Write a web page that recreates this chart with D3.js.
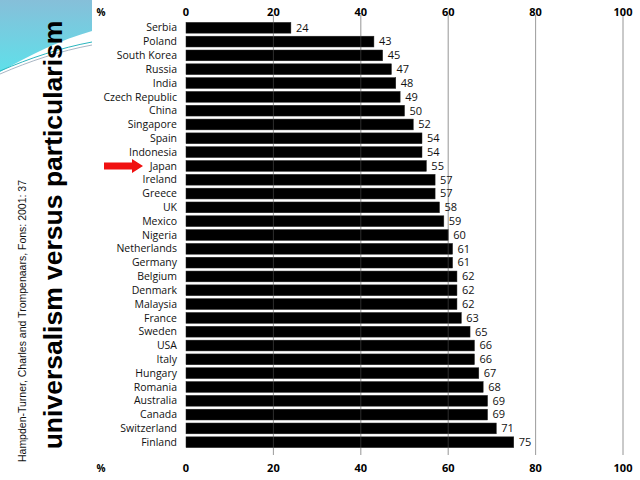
<!DOCTYPE html>
<html>
<head>
<meta charset="utf-8">
<script src="https://cdn.jsdelivr.net/npm/d3@7"></script>
<style>
  body { margin: 0; background: #fff; }
  svg { display: block; }
</style>
</head>
<body>
<svg id="chart" width="640" height="480"></svg>
<script>
const countries = ["Serbia", "Poland", "South Korea", "Russia", "India", "Czech Republic", "China",
  "Singapore", "Spain", "Indonesia", "Japan", "Ireland", "Greece", "UK", "Mexico", "Nigeria",
  "Netherlands", "Germany", "Belgium", "Denmark", "Malaysia", "France", "Sweden", "USA", "Italy",
  "Hungary", "Romania", "Australia", "Canada", "Switzerland", "Finland"];
const values = [24, 43, 45, 47, 48, 49, 50, 52, 54, 54, 55, 57, 57, 58, 59, 60, 61, 61, 62, 62, 62,
  63, 65, 66, 66, 67, 68, 69, 69, 71, 75];
const ticks = [0, 20, 40, 60, 80, 100];
const highlighted = "Japan";
const title = "universalism versus particularism";
const source = "Hampden-Turner, Charles and Trompenaars, Fons: 2001: 37";

const svg = d3.select("#chart");

// slide background swoosh in the top-left corner
const defs = svg.append("defs");
const grad = defs.append("linearGradient").attr("id", "sky")
  .attr("x1", 0).attr("y1", 0).attr("x2", 0).attr("y2", 1);
grad.append("stop").attr("offset", "0%").attr("stop-color", "#86bfd9");
grad.append("stop").attr("offset", "100%").attr("stop-color", "#5fe0ea");

svg.append("path")
  .attr("d", "M0,0 L92,0 L92,31 C60,40 30,55 0,72 Z")
  .attr("fill", "url(#sky)");
svg.append("path")
  .attr("d", "M0,71 C30,58 60,48 92,42")
  .attr("fill", "none").attr("stroke", "#2bb6bf").attr("stroke-width", 1);
svg.append("path")
  .attr("d", "M0,74 C30,61 60,51 92,45")
  .attr("fill", "none").attr("stroke", "#a9b6c4").attr("stroke-width", 1);

// white chart panel
svg.append("rect").attr("x", 92).attr("y", 0).attr("width", 548).attr("height", 480).attr("fill", "#fff");

const x = d3.scaleLinear().domain([0, 100]).range([186, 623]);
const y = d3.scaleBand().domain(countries).range([21, 449]).paddingInner(0.22).paddingOuter(0.1);

// gridlines behind bars
svg.append("g").selectAll("line").data(ticks.slice(1)).join("line")
  .attr("x1", d => x(d)).attr("x2", d => x(d))
  .attr("y1", 15).attr("y2", 455)
  .attr("stroke", "#8a8a8a").attr("stroke-width", 1);

// bars
svg.append("g").selectAll("rect").data(countries).join("rect")
  .attr("x", x(0))
  .attr("y", d => y(d))
  .attr("width", (d, i) => x(values[i]) - x(0))
  .attr("height", y.bandwidth())
  .attr("fill", "#000")
  .attr("stroke", "#222").attr("stroke-width", 0.5);

// gridlines showing through bars
svg.append("g").selectAll("line").data(ticks.slice(1)).join("line")
  .attr("x1", d => x(d)).attr("x2", d => x(d))
  .attr("y1", 15).attr("y2", 455)
  .attr("stroke", "#fff").attr("stroke-opacity", 0.18).attr("stroke-width", 1);

// country labels
svg.append("g").selectAll("text").data(countries).join("text")
  .attr("x", 177)
  .attr("y", d => y(d) + y.bandwidth() / 2)
  .attr("dy", "0.35em")
  .attr("text-anchor", "end")
  .style("font-family", "'Open Sans', sans-serif")
  .style("font-size", "10.5px")
  .attr("fill", "#111")
  .text(d => d);

// value labels
svg.append("g").selectAll("text").data(countries).join("text")
  .attr("x", (d, i) => x(values[i]) + 5)
  .attr("y", d => y(d) + y.bandwidth() / 2)
  .attr("dy", "0.35em")
  .style("font-family", "'Open Sans', sans-serif")
  .style("font-size", "11px")
  .attr("fill", "#111")
  .text((d, i) => values[i]);

// axis tick labels top and bottom
[12, 468].forEach(ty => {
  const g = svg.append("g");
  g.selectAll("text").data(ticks).join("text")
    .attr("x", d => x(d))
    .attr("y", ty)
    .attr("dy", "0.35em")
    .attr("text-anchor", "middle")
    .style("font-family", "'Open Sans', sans-serif")
    .style("font-weight", "bold")
    .style("font-size", "11px")
    .text(d => d);
  g.append("text")
    .attr("x", 101).attr("y", ty).attr("dy", "0.35em")
    .attr("text-anchor", "middle")
    .style("font-family", "'Open Sans', sans-serif")
    .style("font-weight", "bold")
    .style("font-size", "10px")
    .text("%");
});

// red arrow pointing at highlighted country
const ay = y(highlighted) + y.bandwidth() / 2;
svg.append("path")
  .attr("d", `M104,${ay - 3.5} L132,${ay - 3.5} L132,${ay - 7} L143,${ay} L132,${ay + 7} L132,${ay + 3.5} L104,${ay + 3.5} Z`)
  .attr("fill", "#f01010");

// rotated title and source
svg.append("text")
  .attr("transform", "translate(62,235) rotate(-90)")
  .attr("text-anchor", "middle")
  .style("font-family", "'Liberation Sans', Arial, sans-serif")
  .style("font-weight", "bold")
  .style("font-size", "26.5px")
  .attr("fill", "#000")
  .text(title);

svg.append("text")
  .attr("transform", "translate(26,321) rotate(-90)")
  .attr("text-anchor", "middle")
  .style("font-family", "'Liberation Sans', Arial, sans-serif")
  .style("font-size", "10.5px")
  .attr("fill", "#111")
  .text(source);
</script>
</body>
</html>
